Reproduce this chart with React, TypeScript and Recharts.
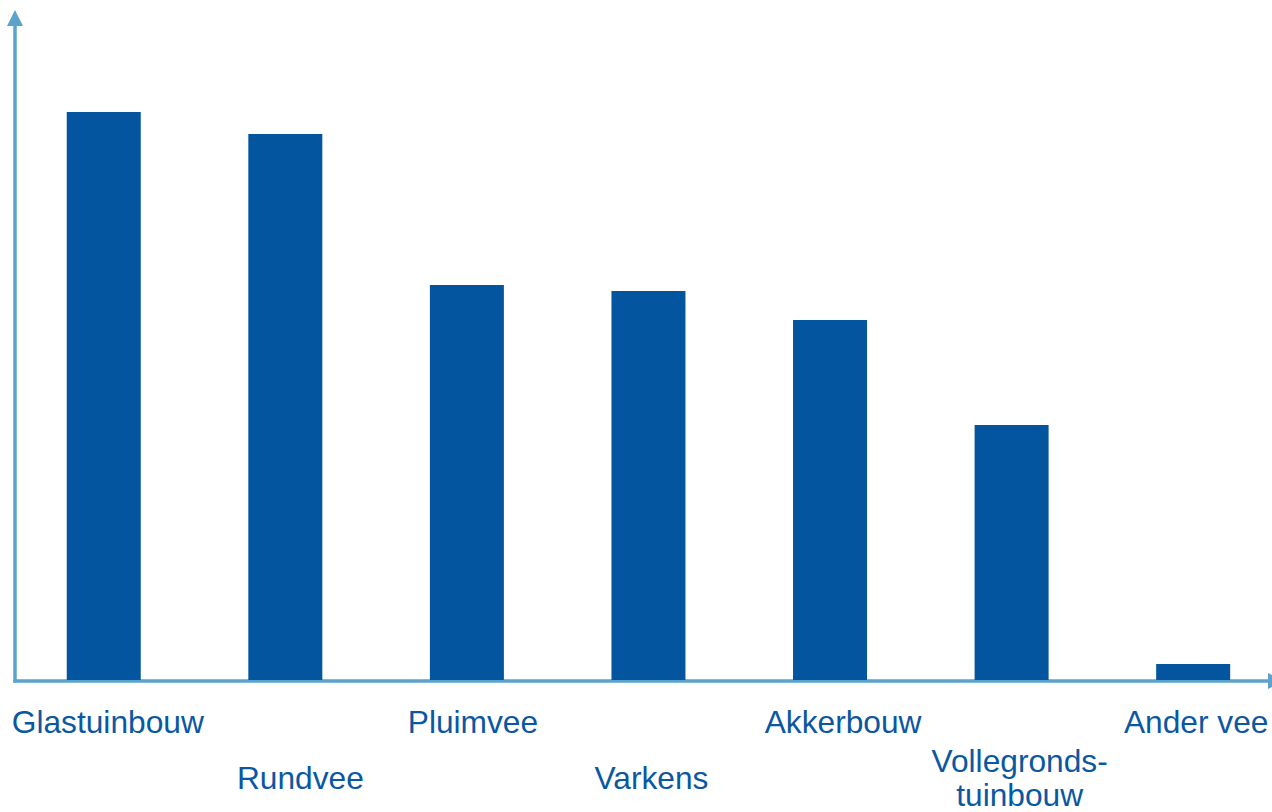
import React from 'react';
import { BarChart, Bar, XAxis, YAxis, Customized } from 'recharts';

const categories = ['Glastuinbouw', 'Rundvee', 'Pluimvee', 'Varkens', 'Akkerbouw', 'Vollegronds-\ntuinbouw', 'Ander vee'];
const values = [568, 546, 395, 389, 360, 255, 16];
const yMax = 668;

const data = categories.map((c, i) => ({ name: c, value: values[i] }));

// layout only: horizontal nudge of each category label (px)
const labelNudge = [4, 15, 6, 3, 13, 8, 3];

const BLUE = '#03559F';
const AXIS = '#5BA3CC';
const TEXT = '#0A57A2';
const FONT = '"Liberation Sans", Arial, sans-serif';

const Tick = (props: any) => {
  const { x, y, payload, index } = props;
  const lines = String(payload.value).split('\n');
  const lower = index % 2 === 1;
  const lineH = 34;
  const center = lower ? 99 : 43;
  const firstBaseline = center + 10 - ((lines.length - 1) * lineH) / 2;
  const cx = x + (labelNudge[index] || 0);
  return (
    <text x={cx} y={y} textAnchor="middle" fill={TEXT} fontSize={31.7} fontFamily={FONT}>
      {lines.map((l, i) => (
        <tspan key={i} x={cx} y={y + firstBaseline + i * lineH}>{l}</tspan>
      ))}
    </text>
  );
};

const Axes = () => (
  <g>
    <line x1={15} y1={24} x2={15} y2={682.5} stroke={AXIS} strokeWidth={3.5} />
    <polygon points="15,10 7,26 23,26" fill={AXIS} />
    <line x1={13.5} y1={681} x2={1270} y2={681} stroke={AXIS} strokeWidth={3.5} />
    <polygon points="1284,681 1268,673 1268,689" fill={AXIS} />
  </g>
);

export default function App() {
  return (
    <div style={{ position: 'absolute', left: 0, top: 0, width: 1272, height: 812, background: '#fff', overflow: 'hidden' }}>
      <BarChart
        width={1272}
        height={812}
        data={data}
        margin={{ top: 12, right: -12, bottom: 0, left: 13 }}
        barCategoryGap="29.6%"
      >
        <YAxis hide domain={[0, yMax]} type="number" allowDataOverflow />
        <XAxis
          dataKey="name"
          height={132}
          axisLine={false}
          tickLine={false}
          tickSize={0}
          tickMargin={0}
          interval={0}
          tick={<Tick />}
        />
        <Bar dataKey="value" fill={BLUE} isAnimationActive={false} />
        <Customized component={Axes} />
      </BarChart>
    </div>
  );
}
